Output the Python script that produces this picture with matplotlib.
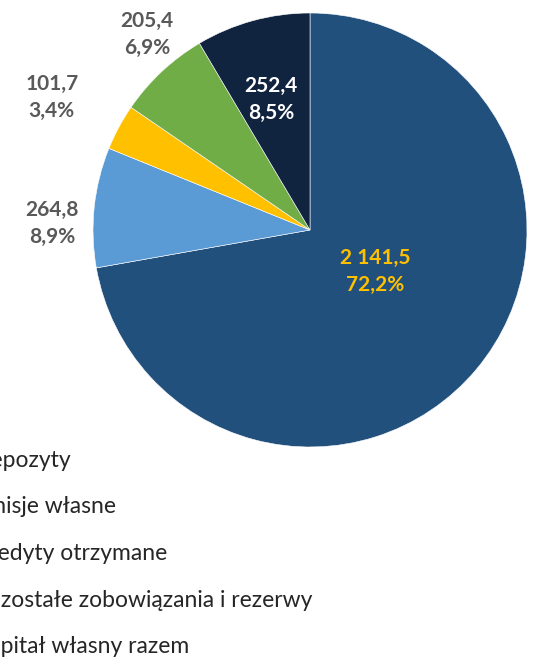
import matplotlib
matplotlib.use("Agg")
import matplotlib.pyplot as plt
import numpy as np

# Liabilities and equity structure (values and shares)
categories = ["Depozyty", "Emisje własne", "Kredyty otrzymane",
              "Pozostałe zobowiązania i rezerwy", "Kapitał własny razem"]
values = [2141.5, 264.8, 101.7, 205.4, 252.4]
value_labels = ["2 141,5", "264,8", "101,7", "205,4", "252,4"]
share_labels = ["72,2%", "8,9%", "3,4%", "6,9%", "8,5%"]

colors = ["#22507D", "#5B9BD5", "#FFC000", "#70AD47", "#10233F"]
label_colors = ["#FFC000", "#595959", "#595959", "#595959", "#FFFFFF"]
# label centres (data units, pie radius = 1)
label_pos = [(0.30, -0.19), (-1.19, 0.03), (-1.19, 0.61), (-0.75, 0.90), (-0.18, 0.60)]

plt.rcParams["font.family"] = ["Lato", "DejaVu Sans"]

W, H = 533, 664
fig = plt.figure(figsize=(W / 100, H / 100), dpi=100)
cx, cy, r = 310, 230, 217
ax = fig.add_axes([(cx - r) / W, (H - cy - r) / H, 2 * r / W, 2 * r / H])
wedges, _ = ax.pie(values, colors=colors, startangle=90, counterclock=False,
                   radius=1.0, wedgeprops=dict(edgecolor="white", linewidth=0.4))
ax.set_xlim(-1, 1)
ax.set_ylim(-1, 1)
ax.set_aspect("equal")
ax.axis("off")

for (x, y), v, s, c in zip(label_pos, value_labels, share_labels, label_colors):
    ax.text(x, y, f"{v}\n{s}", ha="center", va="center", color=c,
            fontsize=15, fontweight="bold", linespacing=1.45, clip_on=False)

# legend, running off the left edge of the figure
fs = 16.5
em = fs * 100 / 72
handles = [plt.Rectangle((0, 0), 1, 1, color=c) for c in colors]
fig.legend(handles, categories, loc="upper left",
           bbox_to_anchor=((-26 - 2.3 * em) / W, 1 - 429 / H), frameon=False,
           fontsize=fs, labelspacing=1.12, handlelength=0.8, handleheight=0.8,
           handletextpad=0.6, borderpad=0.4, borderaxespad=0.5,
           labelcolor="#262626")

fig.savefig("out.png", dpi=100)
